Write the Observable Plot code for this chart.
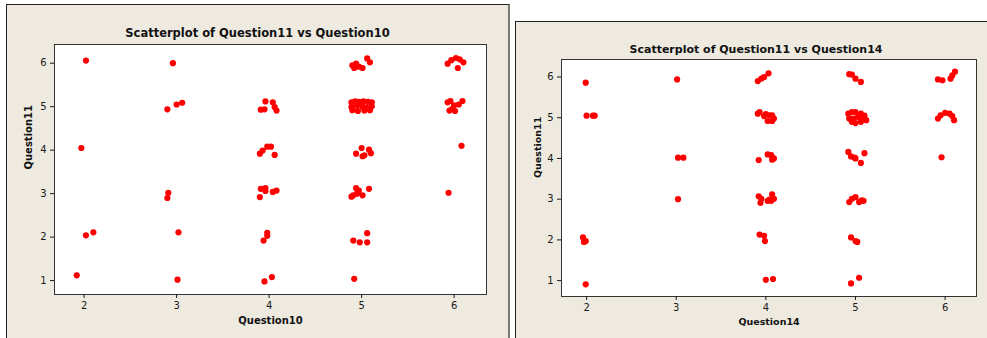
<!DOCTYPE html>
<html><head><meta charset="utf-8">
<script src="https://cdn.jsdelivr.net/npm/d3@7"></script>
<script src="https://cdn.jsdelivr.net/npm/@observablehq/plot@0.6"></script>
<style>
body{margin:0;background:#fff;}
#page{position:relative;width:987px;height:338px;overflow:hidden;background:#fff;}
.panel{position:absolute;background:#EEEAE0;box-sizing:border-box;}
#p1{left:6px;top:4px;width:504px;height:380px;border-left:1px solid #222;border-top:1px solid #222;border-right:2px solid #7a7a7a;}
#p2{left:515px;top:21px;width:520px;height:380px;border-left:1px solid #222;border-top:1px solid #222;}
.chart{position:absolute;top:0;}
</style></head>
<body><div id="page"><div class="panel" id="p1"></div><div class="panel" id="p2"></div></div>
<script>
// Left panel: Question11 vs Question10
const leftTitle = "Scatterplot of Question11 vs Question10";
const leftXLabel = "Question10";
const leftX = [
  2.02,1.97,2.02,2.10,1.92,
  2.96,2.90,3.00,3.06,2.91,2.90,3.02,3.01,
  3.96,4.04,3.91,3.95,4.06,4.08,
  3.90,3.93,3.98,4.02,4.06,
  3.91,3.96,3.96,3.90,4.04,4.08,
  3.98,3.98,3.94,
  3.95,4.03,
  4.90,4.94,4.97,5.01,4.92,5.06,5.09,
  4.89,4.93,4.97,5.02,5.07,5.11,4.89,4.95,5.01,5.05,5.11,4.90,4.96,5.03,5.09,
  4.94,5.00,5.03,5.08,5.10,5.01,
  4.94,4.97,4.91,4.95,5.01,5.08,4.89,
  4.91,4.98,5.06,5.06,
  4.92,
  5.93,5.97,6.02,6.06,6.10,6.04,
  5.93,5.96,6.00,5.95,6.01,6.05,6.09,5.98,
  6.08,
  5.94
];
const leftY = [
  6.06,4.05,2.04,2.11,1.12,
  6.00,4.94,5.05,5.09,3.02,2.90,2.11,1.02,
  5.12,5.10,4.93,4.94,4.99,4.91,
  3.92,3.99,4.08,4.08,3.89,
  3.11,3.13,3.06,2.92,3.04,3.07,
  2.10,2.03,1.92,
  0.98,1.08,
  5.95,5.99,5.92,5.89,5.89,6.11,6.02,
  5.10,5.12,5.11,5.12,5.11,5.10,4.99,5.02,5.00,4.98,5.01,4.92,4.90,4.91,4.92,
  3.92,4.05,3.88,4.01,3.93,3.86,
  3.13,3.07,2.96,3.00,2.96,3.11,2.93,
  1.92,1.88,2.09,1.88,
  1.04,
  5.99,6.07,6.12,6.09,6.02,5.89,
  5.10,5.13,5.03,4.91,4.90,5.05,5.13,4.95,
  4.10,
  3.02
];

// Right panel: Question11 vs Question14
const rightTitle = "Scatterplot of Question11 vs Question14";
const rightXLabel = "Question14";
const rightX = [
  1.99,2.00,2.07,2.09,1.96,1.99,1.97,1.99,
  3.01,3.02,3.08,3.02,
  3.91,3.95,3.98,4.03,
  3.91,3.93,4.00,4.04,4.07,4.09,4.02,4.07,3.98,
  3.92,4.02,4.06,4.09,4.07,
  3.92,3.95,3.94,4.04,4.07,4.09,4.06,4.02,
  3.93,3.98,3.99,
  4.00,4.08,
  4.93,4.96,5.00,5.06,
  4.92,4.96,5.00,5.06,5.10,4.93,4.98,5.03,5.09,5.12,4.96,5.00,5.06,
  4.92,4.95,4.99,5.00,5.06,5.10,
  4.93,4.96,5.00,5.04,5.07,5.09,
  4.95,5.00,5.02,
  4.95,5.04,
  5.92,5.97,6.06,6.08,6.11,
  5.92,5.95,6.00,6.05,6.08,6.10,
  5.96
];
const rightY = [
  5.86,5.05,5.05,5.05,2.06,1.97,1.95,0.91,
  5.94,4.02,4.02,3.00,
  5.90,5.96,6.00,6.09,
  5.10,5.14,5.09,5.06,5.06,4.98,4.92,4.92,5.04,
  3.96,4.10,4.08,4.00,3.97,
  3.07,3.01,2.91,2.99,3.12,3.01,2.96,2.96,
  2.13,2.10,1.97,
  1.02,1.04,
  6.07,6.06,5.96,5.88,
  5.10,5.14,5.14,5.10,5.05,4.98,4.98,5.02,4.98,4.94,4.90,4.87,4.90,
  4.16,4.05,4.02,4.00,3.89,4.13,
  2.93,3.01,3.05,2.93,2.97,2.96,
  2.06,1.97,1.95,
  0.93,1.07,
  5.94,5.92,5.96,6.04,6.13,
  4.98,5.06,5.12,5.10,5.04,4.94,
  4.03
];

const yLabel = "Question11";
const xTicks = [2, 3, 4, 5, 6];
const yTicks = [1, 2, 3, 4, 5, 6];

function panel(o) {
  const data = o.xs.map((x, i) => ({x, y: o.ys[i]}));
  const svg = Plot.plot({
    width: o.width, height: 338,
    marginLeft: o.ml, marginRight: o.mr, marginTop: o.mt, marginBottom: o.mb,
    x: {domain: o.xd},
    y: {domain: o.yd},
    style: {background: "transparent", fontFamily: "'DejaVu Sans', sans-serif", fontSize: "10px", color: "#1a1a1a", overflow: "visible"},
    marks: [
      Plot.frame({fill: "white", stroke: "#333"}),
      Plot.dot(data, {x: "x", y: "y", r: 3.1, fill: "#ff0000", stroke: null}),
      Plot.axisX({ticks: xTicks, tickSize: 4, tickPadding: 3, label: null, tickFormat: d => d}),
      Plot.axisY({ticks: yTicks, tickSize: 4, tickPadding: 4, label: null, tickFormat: d => d}),
      Plot.text([o.title], {frameAnchor: "top", dx: o.tdx, dy: o.tdy, fontWeight: "bold", fontSize: o.tfs, fill: "#111"}),
      Plot.text([o.xlabel], {frameAnchor: "bottom", dy: o.xldy, fontWeight: "bold", fontSize: o.lfs, fill: "#111"}),
      Plot.text([yLabel], {frameAnchor: "left", dx: o.yldx, rotate: -90, fontWeight: "bold", fontSize: o.lfs, fill: "#111"})
    ]
  });
  svg.classList.add("chart");
  svg.style.left = o.left + "px";
  document.getElementById("page").appendChild(svg);
}

panel({xs: leftX, ys: leftY, title: leftTitle, xlabel: leftXLabel,
  left: 0, width: 509, ml: 54, mr: 23, mt: 44, mb: 44,
  xd: [1.68, 6.35], yd: [0.68, 6.43],
  tdx: -13, tdy: -16, tfs: 11.5, lfs: 10, xldy: 29, yldx: -26});

panel({xs: rightX, ys: rightY, title: rightTitle, xlabel: rightXLabel,
  left: 509, width: 478, ml: 52, mr: 11, mt: 59, mb: 42,
  xd: [1.72, 6.35], yd: [0.61, 6.43],
  tdx: -13, tdy: -14.5, tfs: 11, lfs: 9.5, xldy: 28, yldx: -24});
</script>
</body></html>
